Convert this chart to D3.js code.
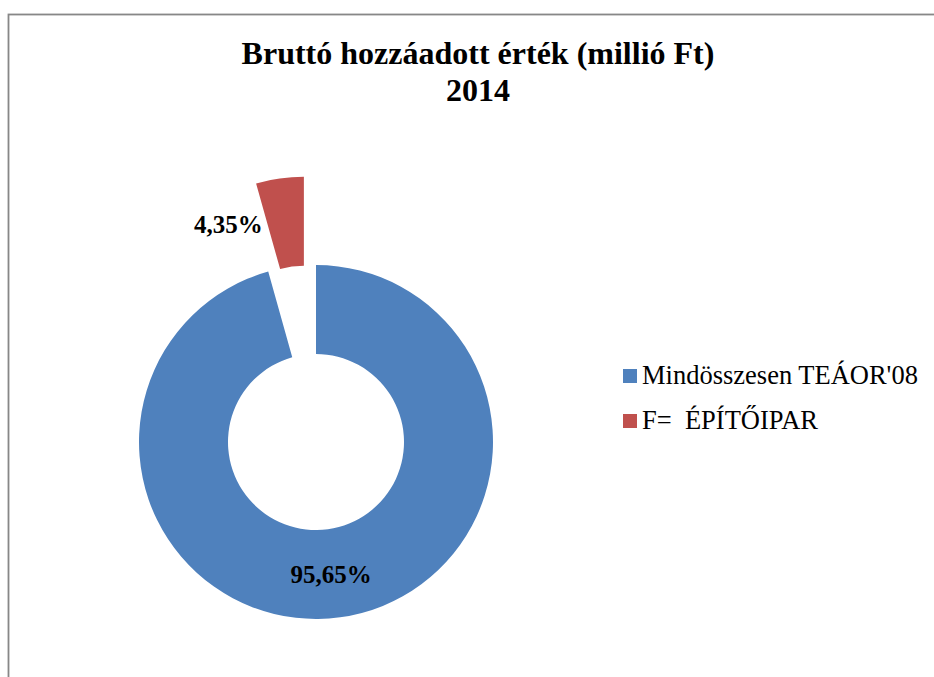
<!DOCTYPE html>
<html>
<head>
<meta charset="utf-8">
<script src="https://cdn.jsdelivr.net/npm/d3@7"></script>
<style>
  body { margin: 0; background: #fff; }
  #chart text { font-family: "Liberation Serif", "Times New Roman", serif; }
</style>
</head>
<body>
<svg id="chart" width="934" height="677"></svg>
<script>
const categories = ["Mindösszesen TEÁOR'08", "F=  ÉPÍTŐIPAR"];
const values = [95.65, 4.35];
const labels = ["95,65%", "4,35%"];
const colors = ["#4F81BD", "#C0504D"];
const titleLines = ["Bruttó hozzáadott érték (millió Ft)", "2014"];

const svg = d3.select("#chart");

// outer frame, runs off the right/bottom edges like the original screenshot
svg.append("rect")
  .attr("x", 8.5).attr("y", 14.5)
  .attr("width", 1000).attr("height", 1000)
  .attr("fill", "none").attr("stroke", "#878787").attr("stroke-width", 1.8);

// title
svg.append("g").selectAll("text")
  .data(titleLines)
  .enter().append("text")
  .attr("x", 478)
  .attr("y", (d, i) => 64 + i * 37)
  .attr("text-anchor", "middle")
  .style("font-weight", "bold")
  .style("font-size", "32px")
  .text(d => d);

const cx = 316, cy = 442;
const rOuter = 177, rInner = 88;
const explode = 89; // second slice pulled out

const pie = d3.pie().sort(null).value(d => d);
const arcs = pie(values);
const arc = d3.arc().innerRadius(rInner).outerRadius(rOuter);

function offset(d, i) {
  if (i !== 1) return [0, 0];
  const a = (d.startAngle + d.endAngle) / 2;
  return [Math.sin(a) * explode, -Math.cos(a) * explode];
}

const g = svg.append("g").attr("transform", `translate(${cx},${cy})`);

g.selectAll("path")
  .data(arcs)
  .enter().append("path")
  .attr("d", arc)
  .attr("fill", (d, i) => colors[i])
  .attr("transform", (d, i) => `translate(${offset(d, i)})`);

// data labels at the ring centroid; the small one is pushed left of its slice
g.selectAll("text.lbl")
  .data(arcs)
  .enter().append("text")
  .attr("class", "lbl")
  .attr("x", (d, i) => {
    const c = arc.centroid(d);
    return i === 1 ? c[0] + offset(d, i)[0] - 23 : c[0] - 3;
  })
  .attr("y", (d, i) => {
    const c = arc.centroid(d);
    return c[1] + offset(d, i)[1] + 10;
  })
  .attr("text-anchor", (d, i) => i === 1 ? "end" : "middle")
  .style("font-weight", "bold")
  .style("font-size", "25px")
  .text((d, i) => labels[i]);

// legend
const legend = svg.append("g").attr("transform", "translate(623,0)");
const item = legend.selectAll("g")
  .data(categories)
  .enter().append("g")
  .attr("transform", (d, i) => `translate(0,${384 + i * 45})`);

item.append("rect")
  .attr("x", 0).attr("y", -15)
  .attr("width", 14).attr("height", 14)
  .attr("fill", (d, i) => colors[i]);

item.append("text")
  .attr("x", 19)
  .attr("y", 0)
  .style("font-size", "26.5px")
  .style("white-space", "pre")
  .text(d => d);
</script>
</body>
</html>
